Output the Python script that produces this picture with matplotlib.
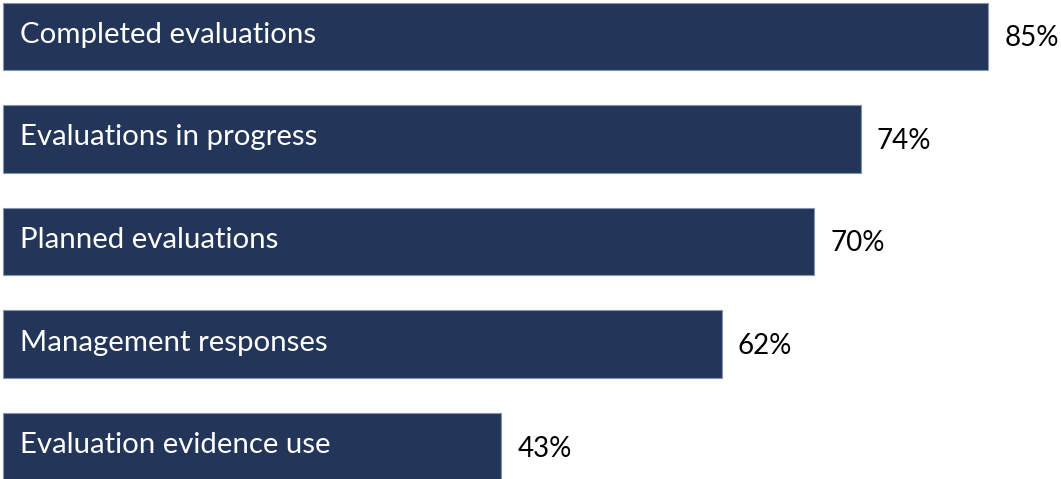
import matplotlib
matplotlib.use("Agg")
import matplotlib.pyplot as plt

categories = ["Completed evaluations", "Evaluations in progress", "Planned evaluations",
              "Management responses", "Evaluation evidence use"]
values = [85, 74, 70, 62, 43]
value_labels = ["85%", "74%", "70%", "62%", "43%"]

bar_color = "#233659"
edge_color = "#8394b0"

plt.rcParams["font.family"] = ["Lato", "DejaVu Sans"]

fig = plt.figure(figsize=(10.61, 4.79), dpi=100)
ax = fig.add_axes([0, 0, 1, 1])

ypos = list(range(len(categories)))
ax.barh(ypos, values, height=0.66, color=bar_color, edgecolor=edge_color, linewidth=0.8)

px = 1 / 102.5  # one pixel in y data units
for y, v, cat, lab in zip(ypos, values, categories, value_labels):
    ax.text(1.45, y + 6.5 * px, cat, color="white", fontsize=21.2, va="baseline", ha="left")
    ax.text(v + 1.4, y + 10 * px, lab, color="black", fontsize=20, va="baseline", ha="left")

ax.set_xlim(-0.26, 91.29)
ax.set_ylim(4.317, -0.356)
ax.axis("off")

fig.savefig("out.png", dpi=100)
